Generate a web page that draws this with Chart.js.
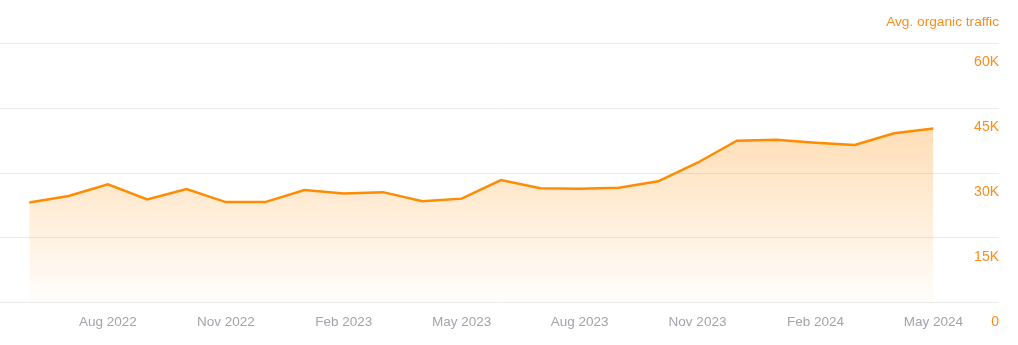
<!DOCTYPE html>
<html>
<head>
<meta charset="utf-8">
<script src="https://cdn.jsdelivr.net/npm/chart.js@4"></script>
<style>
html,body{margin:0;padding:0;background:#fff;}
#wrap{width:1018px;height:345px;}
</style>
</head>
<body>
<div id="wrap"><canvas id="c" width="1018" height="345"></canvas></div>
<script>
const months = ['Jun 2022','Jul 2022','Aug 2022','Sep 2022','Oct 2022','Nov 2022','Dec 2022',
  'Jan 2023','Feb 2023','Mar 2023','Apr 2023','May 2023','Jun 2023','Jul 2023','Aug 2023',
  'Sep 2023','Oct 2023','Nov 2023','Dec 2023','Jan 2024','Feb 2024','Mar 2024','Apr 2024','May 2024'];
const traffic = [23200,24700,27400,23900,26300,23300,23300,26100,25300,25600,23500,24100,
  28400,26500,26400,26600,28100,32400,37500,37700,37000,36500,39200,40300];
const xTickLabels = ['Aug 2022','Nov 2022','Feb 2023','May 2023','Aug 2023','Nov 2023','Feb 2024','May 2024'];
const yTickValues = [0,15000,30000,45000,60000];
const seriesName = 'Avg. organic traffic';

const orange = '#ff8c00';
const points = traffic.map((v,i)=>({x:i,y:v}));

new Chart(document.getElementById('c'), {
  type:'line',
  data:{datasets:[{
    label:seriesName,
    data:points,
    borderColor:orange,
    borderWidth:2.5,
    pointRadius:0,
    tension:0,
    fill:'origin',
    backgroundColor:(ctx)=>{
      const ca = ctx.chart.chartArea;
      if(!ca) return 'rgba(255,140,0,0.2)';
      const g = ctx.chart.ctx.createLinearGradient(0,ca.top,0,ca.bottom);
      g.addColorStop(0,'rgba(255,140,0,0.42)');
      g.addColorStop(1,'rgba(255,140,0,0.01)');
      return g;
    }
  }]},
  options:{
    responsive:false,
    animation:false,
    layout:{padding:{left:0,right:19,top:0,bottom:4}},
    plugins:{
      legend:{display:false},
      tooltip:{enabled:false},
      title:{display:true,text:seriesName,align:'end',color:'#ff8c1a',
        font:{family:'Liberation Sans, Arial, sans-serif',size:13.7,weight:'normal'},
        padding:{top:14,bottom:13}}
    },
    scales:{
      x:{type:'linear',min:-0.745,max:24.67,
        grid:{display:false,drawTicks:false},border:{display:false},
        afterBuildTicks:(s)=>{s.ticks = xTickLabels.map(l=>({value:months.indexOf(l)}));},
        ticks:{color:'#a3a3ab',padding:11,maxRotation:0,autoSkip:false,
          font:{family:'Liberation Sans, Arial, sans-serif',size:13.5},
          callback:(v)=>months[v]}
      },
      y:{position:'right',min:0,max:60000,
        afterBuildTicks:(s)=>{s.ticks = yTickValues.map(v=>({value:v}));},
        grid:{color:'#ebebeb',drawTicks:false,lineWidth:1},border:{display:false},
        ticks:{mirror:true,padding:0,labelOffset:19,color:'#ff8c1a',
          font:{family:'Liberation Sans, Arial, sans-serif',size:14},
          callback:(v)=>v===0?'0':(v/1000)+'K'}
      }
    }
  }
});
</script>
</body>
</html>
